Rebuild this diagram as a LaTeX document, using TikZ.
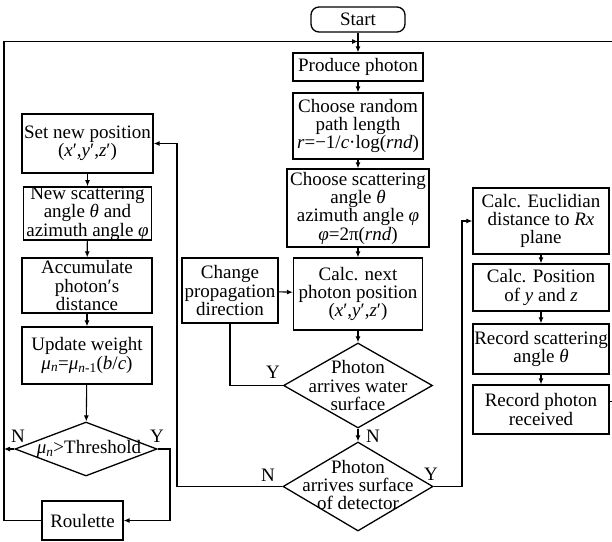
\documentclass[tikz,border=0pt]{standalone}
\usepackage{fontspec}
\setmainfont{Liberation Serif}
\usetikzlibrary{shapes.geometric,arrows.meta}
\newcommand\figfont{\fontsize{19}{18.3}\selectfont}
\begin{document}
\begin{tikzpicture}[x=1pt,y=-1pt,
  box/.style={draw, line width=1.3pt, align=center, inner sep=0pt, font=\figfont},
  dia/.style={draw, diamond, line width=1.3pt, inner sep=0pt},
  txt/.style={align=center, inner sep=0pt, font=\figfont},
  lbl/.style={inner sep=0pt, font=\figfont},
  conn/.style={line width=1.1pt},
  arr/.style={line width=1.1pt, -{Latex[length=6pt,width=5pt]}}]
\useasboundingbox (0,0) rectangle (612,541);
\clip (0,0) rectangle (612,541);
% centre column
\node[box, rounded corners=8pt, minimum width=94pt, minimum height=25pt] (start) at (358,19.5) {Start};
\coordinate (J) at (358,41.5);
\node[box, minimum width=130pt, minimum height=28pt] (prod) at (358,67) {Produce photon};
\node[box, minimum width=130pt, minimum height=66pt] (rand) at (358,126) {Choose random\\path length\\\textit{r}=−1/\textit{c}·log(\textit{rnd})};
\node[box, minimum width=142pt, minimum height=78pt] (scat) at (358,208) {Choose scattering\\angle \textit{θ}\\azimuth angle \textit{φ}\\\textit{φ}=2π(\textit{rnd})};
\node[box, minimum width=129pt, minimum height=72pt] (calc) at (358,294) {Calc. next\\photon position\\(\textit{x}′,\textit{y}′,\textit{z}′)};
\node[box, minimum width=96pt, minimum height=65pt] (chg) at (230,290.5) {Change\\propagation\\direction};
\node[dia, minimum width=149pt, minimum height=85pt] (d1) at (358,385.5) {};
\node[txt] (d1t) at (d1) {Photon\\arrives water\\surface};
\node[dia, minimum width=150pt, minimum height=89pt] (d2) at (358,486.5) {};
\node[txt] (d2t) at (358,485) {Photon\\arrives surface\\of detector};
% left column
\node[box, minimum width=131pt, minimum height=59pt] (setn) at (87.5,143.5) {Set new position\\(\textit{x}′,\textit{y}′,\textit{z}′)};
\node[box, minimum width=128pt, minimum height=53pt] (nscat) at (87.5,213.5) {New scattering\\angle \textit{θ} and\\azimuth angle \textit{φ}};
\node[box, minimum width=130pt, minimum height=55pt] (acc) at (87,285.5) {Accumulate\\photon′s\\distance};
\node[box, minimum width=130pt, minimum height=57pt] (upd) at (87,355.5) {Update weight\\\textit{μ}\textsubscript{\textit{n}}=\textit{μ}\textsubscript{\textit{n}-1}(\textit{b}/\textit{c})};
\node[dia, minimum width=142pt, minimum height=54pt] (thr) at (86,449) {};
\node[txt] (thrt) at (89,449) {\textit{μ}\textsubscript{\textit{n}}>Threshold};
\node[box, minimum width=81pt, minimum height=39pt] (roul) at (82.5,520.5) {Roulette};
% right column
\node[box, minimum width=136pt, minimum height=66pt] (euc) at (541,221) {Calc. Euclidian\\distance to \textit{Rx}\\plane};
\node[box, minimum width=136pt, minimum height=47pt] (pos) at (541,287.5) {Calc. Position\\of \textit{y} and \textit{z}};
\node[box, minimum width=136pt, minimum height=50pt] (rsc) at (541,349) {Record scattering\\angle \textit{θ}};
\node[box, minimum width=136pt, minimum height=49pt] (rph) at (541,409.5) {Record photon\\received};
% labels
\node[lbl] (y1) at (273,372) {Y};
\node[lbl] (n1) at (373,436) {N};
\node[lbl] (n2) at (268,475) {N};
\node[lbl] (y2) at (431,474) {Y};
\node[lbl] (n3) at (18,436) {N};
\node[lbl] (y3) at (157,436) {Y};
% connectors
\draw[conn] (start) -- (J);
\draw[arr] (J) -- (prod);
\draw[arr] (prod) -- (rand);
\draw[arr] (rand) -- (scat);
\draw[arr] (scat) -- (calc);
\draw[arr] (calc) -- (d1);
\draw[arr] (d1) -- (d2);
\draw[arr] (chg) -- (calc);
\draw[conn] (d1.west) -| (chg.south);
\draw[arr] (d2.west) -- (177,486.5) |- (setn.east);
\draw[arr] (d2.east) -- (462,486.5) |- (euc.west);
\draw[arr] (setn) -- (nscat);
\draw[arr] (nscat) -- (acc);
\draw[arr] (acc) -- (upd);
\draw[arr] (upd) -- (thr);
\draw[arr] (thr.west) -- (4,449);
\draw[arr] (thr.east) -- (170,449) |- (roul.east);
\draw[arr] (roul.west) -- (4,520.5) -- (4,41.5) -- (J);
\draw[arr] (euc) -- (pos);
\draw[arr] (pos) -- (rsc);
\draw[arr] (rsc) -- (rph);
\draw[conn] ([yshift=8pt]rph.east) -- (622,401.5) -- (622,41.5) -- (J);
\end{tikzpicture}
\end{document}
